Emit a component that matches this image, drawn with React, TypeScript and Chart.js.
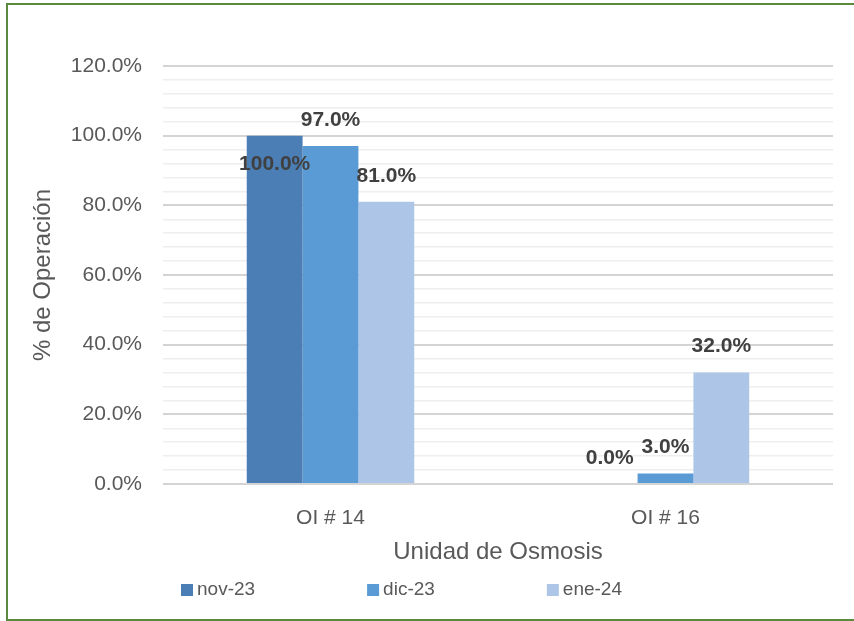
import React, { useEffect, useRef } from "react";
import { Chart, registerables } from "chart.js";

Chart.register(...registerables);

const categories = ["OI # 14", "OI # 16"];
const seriesNames = ["nov-23", "dic-23", "ene-24"];
const nov23 = [100, 0];
const dic23 = [97, 3];
const ene24 = [81, 32];
const seriesColors = ["#4A7EB4", "#5B9BD5", "#ADC6E8"];
const yTickValues = [0, 20, 40, 60, 80, 100, 120];

const FONT = "'Liberation Sans', Arial, sans-serif";

const dataLabelPlugin = {
  id: "dataLabels",
  afterDatasetsDraw(chart: any) {
    const ctx = chart.ctx;
    ctx.save();
    ctx.font = `bold 21px ${FONT}`;
    ctx.fillStyle = "#404040";
    ctx.textAlign = "center";
    ctx.textBaseline = "middle";
    chart.data.datasets.forEach((ds: any, di: number) => {
      const meta = chart.getDatasetMeta(di);
      meta.data.forEach((el: any, i: number) => {
        const v = ds.data[i];
        const y = v >= 100 ? el.y + 29 : el.y - 26;
        ctx.fillText(v.toFixed(1) + "%", el.x, y);
      });
    });
    ctx.restore();
  },
};

const legendPlugin = {
  id: "customLegend",
  afterDraw(chart: any) {
    const ctx = chart.ctx;
    ctx.save();
    ctx.font = `19px ${FONT}`;
    ctx.textBaseline = "middle";
    ctx.textAlign = "left";
    let x = chart.chartArea.left + 18;
    const cy = chart.height - 29;
    chart.data.datasets.forEach((ds: any) => {
      ctx.fillStyle = ds.backgroundColor;
      ctx.fillRect(x, cy - 6, 12, 12);
      ctx.fillStyle = "#595959";
      ctx.fillText(ds.label, x + 16, cy);
      x += 16 + ctx.measureText(ds.label).width + 112;
    });
    ctx.restore();
  },
};

export default function App() {
  const ref = useRef<HTMLCanvasElement | null>(null);

  useEffect(() => {
    if (!ref.current) return;
    const values = [nov23, dic23, ene24];
    const chart = new Chart(ref.current, {
      type: "bar",
      data: {
        labels: categories,
        datasets: seriesNames.map((name, i) => ({
          label: name,
          data: values[i],
          backgroundColor: seriesColors[i],
          borderWidth: 0,
          categoryPercentage: 0.5,
          barPercentage: 1,
        })),
      },
      options: {
        responsive: false,
        animation: false,
        devicePixelRatio: 1,
        layout: { padding: { left: 4, right: 21, top: 61, bottom: 49 } },
        plugins: {
          legend: { display: false },
          tooltip: { enabled: false },
          title: { display: false },
        },
        scales: {
          x: {
            grid: { display: false },
            border: { display: false },
            ticks: {
              color: "#595959",
              font: { family: FONT, size: 21 },
              padding: 14,
            },
            title: {
              display: true,
              text: "Unidad de Osmosis",
              color: "#595959",
              font: { family: FONT, size: 24 },
              padding: { top: 0, bottom: 3 },
            },
            afterFit: (s: any) => {
              s.height = 86;
            },
          },
          y: {
            min: 0,
            max: 120,
            afterBuildTicks: (s: any) => {
              const t: any[] = [];
              for (let v = 0; v <= 120; v += 4) t.push({ value: v });
              s.ticks = t;
            },
            ticks: {
              autoSkip: false,
              color: "#595959",
              font: { family: FONT, size: 21 },
              padding: 21,
              callback: (v: any) =>
                yTickValues.includes(Number(v)) ? Number(v).toFixed(1) + "%" : "",
            },
            grid: {
              drawTicks: false,
              color: (c: any) =>
                c.tick && c.tick.value % 20 === 0 ? "#D4D4D4" : "#EEEEEE",
              lineWidth: (c: any) =>
                c.tick && c.tick.value % 20 === 0 ? 2 : 1.5,
            },
            border: { display: false },
            title: {
              display: true,
              text: "% de Operación",
              color: "#595959",
              font: { family: FONT, size: 24 },
              padding: { top: 17, bottom: 0 },
            },
            afterFit: (s: any) => {
              s.width = 151;
            },
          },
        },
      },
      plugins: [dataLabelPlugin, legendPlugin],
    });
    return () => chart.destroy();
  }, []);

  return (
    <div
      style={{
        position: "fixed",
        left: 0,
        top: 0,
        width: 854,
        height: 621,
        background: "#ffffff",
        overflow: "hidden",
      }}
    >
      <div
        style={{
          position: "absolute",
          left: 6,
          top: 3,
          width: 900,
          height: 618,
          border: "2px solid #5B8A3C",
          boxSizing: "border-box",
        }}
      />
      <canvas
        ref={ref}
        width={846}
        height={614}
        style={{ position: "absolute", left: 8, top: 5, width: 846, height: 614 }}
      />
    </div>
  );
}
